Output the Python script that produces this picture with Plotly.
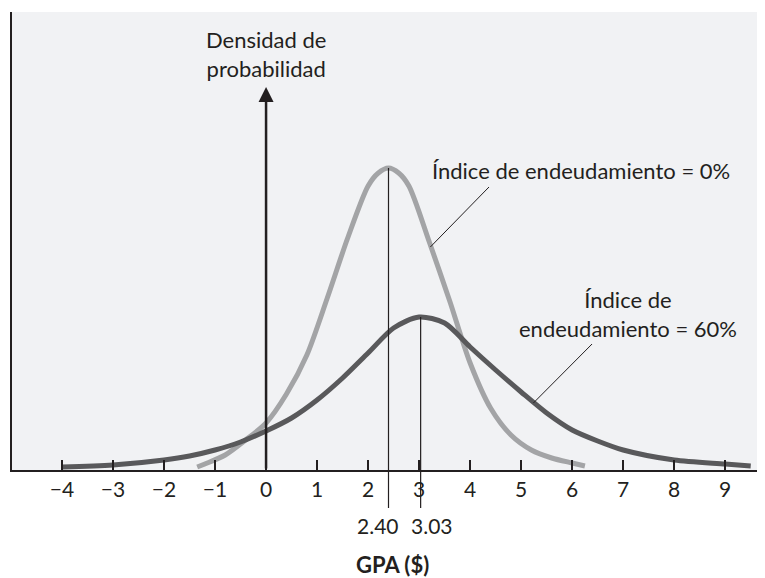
import plotly.graph_objects as go

# GPA values (x) and density heights (arbitrary units)
gpa_0 = [-1.35, -1.2, -0.8, -0.4, 0.0, 0.4, 0.8, 1.2, 1.6, 2.0, 2.2, 2.4, 2.6, 2.8, 3.2, 3.6, 4.0, 4.4, 4.8,
         5.2, 5.6, 6.0, 6.25]
dens_0 = [3, 6, 15, 30, 47, 76, 115, 172, 232, 284, 297, 302, 297, 284, 228, 169, 107, 62, 35, 20, 12, 7, 4]

gpa_60 = [-4, -3, -2, -1.5, -1, -0.5, 0, 0.5, 1, 1.5, 2, 2.5, 3, 3.5, 4, 4.5, 5, 5.5, 6, 6.5, 7, 8, 9, 9.5]
dens_60 = [3, 5, 10, 14, 20, 28, 39, 52, 70, 92, 117, 142, 153, 147, 123, 100, 78, 57, 40, 29, 20, 10, 6, 4]

ticks = [-4, -3, -2, -1, 0, 1, 2, 3, 4, 5, 6, 7, 8, 9]
tick_txt = [str(t).replace('-', '\u2212') for t in ticks]

media_0 = 2.40
media_60 = 3.03
pico_0 = 302
pico_60 = 153

ink = '#231f20'
fnt = 'Lato'
ymax = 458

fig = go.Figure()
fig.add_trace(go.Scatter(x=gpa_0, y=dens_0, mode='lines',
                         line=dict(color='#a3a4a6', width=5, shape='spline', smoothing=0.8), hoverinfo='skip'))
fig.add_trace(go.Scatter(x=gpa_60, y=dens_60, mode='lines',
                         line=dict(color='#59595b', width=5, shape='spline', smoothing=0.8), hoverinfo='skip'))

# vertical marker lines at the two means (above and below the axis)
for m, p in [(media_0, pico_0), (media_60, pico_60)]:
    fig.add_shape(type='line', xref='x', yref='y', x0=m, x1=m, y0=0, y1=p, line=dict(color=ink, width=1.2))
    fig.add_shape(type='line', xref='x', yref='paper', x0=m, x1=m, y0=0, y1=-0.083, line=dict(color=ink, width=1.2))

# leader lines for the labels
fig.add_shape(type='line', xref='x', yref='y', x0=3.22, y0=223, x1=4.37, y1=283, line=dict(color=ink, width=1))
fig.add_shape(type='line', xref='x', yref='y', x0=5.24, y0=67, x1=6.39, y1=126, line=dict(color=ink, width=1))

# probability density arrow
fig.add_annotation(x=0, y=383, ax=0, ay=0, xref='x', yref='y', axref='x', ayref='y', showarrow=True,
                   arrowhead=2, arrowsize=1.2, arrowwidth=2.5, arrowcolor=ink, standoff=0, text='')
fig.add_annotation(x=0, y=386, xref='x', yref='y', text='Densidad de<br>probabilidad', showarrow=False,
                   yanchor='bottom', font=dict(size=22, color=ink, family=fnt))

fig.add_annotation(x=3.22, y=300, xref='x', yref='y', text='Índice de endeudamiento = 0%', showarrow=False,
                   xanchor='left', yanchor='middle', font=dict(size=22, color=ink, family=fnt))
fig.add_annotation(x=7.1, y=156, xref='x', yref='y', text='Índice de<br>endeudamiento = 60%', showarrow=False,
                   xanchor='center', yanchor='middle', font=dict(size=22, color=ink, family=fnt))

fig.add_annotation(x=media_0, y=-0.122, xref='x', yref='paper', text='2.40', showarrow=False, xshift=-11,
                   yanchor='middle', font=dict(size=21, color=ink, family=fnt))
fig.add_annotation(x=media_60, y=-0.122, xref='x', yref='paper', text='3.03', showarrow=False, xshift=11,
                   yanchor='middle', font=dict(size=21, color=ink, family=fnt))
fig.add_annotation(x=0.505, y=-0.207, xref='paper', yref='paper', text='<b>GPA ($)</b>', showarrow=False,
                   yanchor='middle', font=dict(size=22, color=ink, family=fnt))

fig.update_xaxes(range=[-4.98, 9.78], tickvals=ticks, ticktext=tick_txt, ticks='inside', ticklen=10,
                 tickwidth=1.5, tickcolor=ink, showline=True, linecolor=ink, linewidth=2, showgrid=False,
                 zeroline=False, tickfont=dict(size=21, color=ink, family=fnt))
fig.update_yaxes(range=[0, ymax], showticklabels=False, showline=True, linecolor=ink, linewidth=2,
                 showgrid=False, zeroline=False, ticks='')

# page body has an 8px margin, so the figure is a bit smaller than the window
fig.update_layout(width=757, height=570, margin=dict(l=4, r=0, t=4, b=108), plot_bgcolor='#f1f2f4',
                  paper_bgcolor='white', showlegend=False)

fig.write_html("out.html")
